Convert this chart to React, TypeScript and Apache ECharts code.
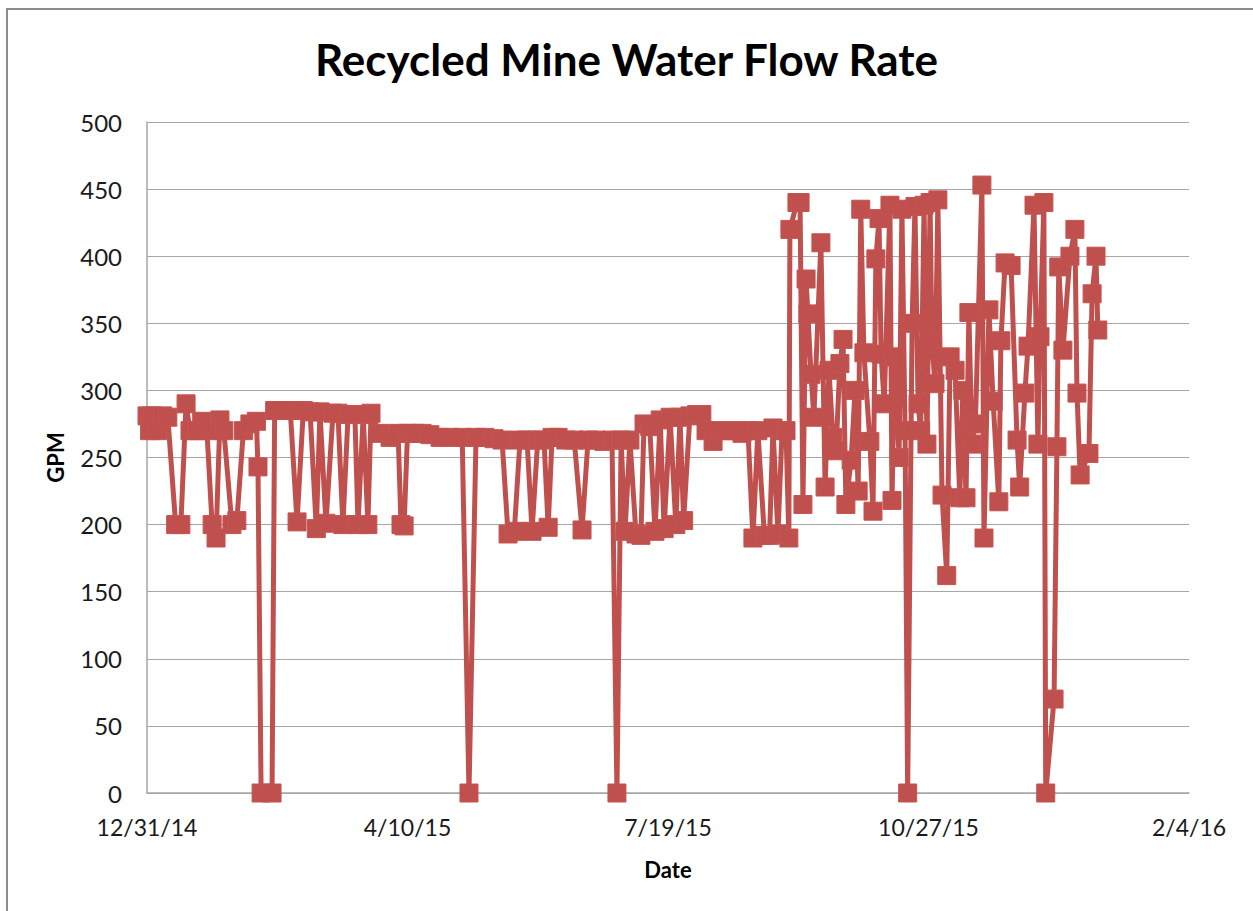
import React, { useEffect, useRef } from "react";
import * as echarts from "echarts";

// day offsets from 12/31/14
const days: number[] = [
  0, 1, 2, 4, 6, 8, 11, 13, 15, 16.5, 19, 21, 23, 25, 26.5, 28, 29.5, 32.6, 34.5, 37,
  39.5, 42, 42.6, 43.8, 48, 49, 52, 55, 57.6, 60, 62.6, 65, 66.4, 68.7, 71.4, 73.3, 75.2, 77.2, 79.8, 81,
  83, 84.8, 86, 89.4, 93.3, 96.4, 97.5, 98.7, 100, 103, 105.6, 108.6, 112.5, 116.3, 121, 123.6, 126.3, 129.7, 133.2, 136.3,
  138.6, 141, 143.2, 145.9, 147.8, 150, 152.4, 154, 155.5, 157.8, 160.8, 164, 167, 169.3, 172.4, 175.4, 178.5, 180.4, 182, 183.5,
  185.4, 187.7, 189.6, 190.8, 193, 195, 197, 198.5, 200.8, 203, 204.6, 206, 208.4, 211, 213, 214.6, 217.3, 220, 223, 226,
  228.4, 230.7, 232.6, 234.5, 237, 239, 240.3, 242.2, 243.8, 245.3, 246.4, 246.8, 249.5, 250.7, 251.8, 253, 253.7, 254.9, 256, 258.7,
  260.3, 261.8, 263.3, 264.5, 266, 267.2, 268.3, 270.3, 271.8, 273, 274, 275.2, 277.5, 278.7, 279.8, 281, 281.8, 283, 285.2, 286,
  287, 288.7, 289.8, 291, 292, 293.7, 294.8, 296, 297, 298.3, 299.4, 300.6, 301.3, 302.5, 303.6, 305.2, 307, 308.3, 310.2, 312,
  313.2, 314.4, 315.5, 316.7, 318, 320.5, 321.3, 323.2, 324.8, 327, 327.8, 329.4, 331.7, 334, 335, 337, 338.2, 340.5, 342, 342.8,
  344.3, 345, 348.2, 349.3, 350, 351.6, 354.3, 356.2, 357, 358.2, 361.6, 362.8, 364.3, 365
];

const gpm: number[] = [
  281, 270, 281, 270, 281, 280, 200, 200, 290, 270, 270, 277, 270, 200, 190, 278, 270, 200, 203, 270,
  275, 277, 243, 0, 0, 285, 285, 285, 202, 285, 284, 197, 284, 201, 283, 283, 200, 282, 282, 200,
  282, 200, 283, 268, 265, 268, 200, 199, 268, 268, 268, 267, 265, 265, 265, 0, 265, 265, 264, 263,
  193, 195, 263, 263, 195, 263, 263, 198, 265, 265, 263, 263, 196, 263, 263, 262, 263, 0, 263, 195,
  263, 193, 192, 275, 273, 195, 278, 197, 280, 200, 280, 203, 281, 282, 282, 270, 262, 270, 270, 270,
  268, 270, 190, 270, 192, 192, 272, 193, 270, 270, 190, 420, 440, 440, 215, 383, 357, 312, 280, 410,
  228, 315, 265, 255, 320, 338, 215, 248, 300, 225, 435, 328, 262, 210, 398, 428, 327, 290, 438, 218,
  325, 250, 435, 270, 0, 350, 437, 290, 270, 438, 260, 440, 335, 305, 442, 222, 162, 325, 315, 220,
  300, 220, 358, 260, 275, 453, 190, 360, 292, 217, 337, 395, 393, 263, 228, 298, 333, 438, 260, 340,
  440, 0, 70, 258, 392, 330, 400, 420, 298, 237, 253, 372, 400, 345
];

const BASE = Date.UTC(2014, 11, 31);
const DAY = 86400000;

function fmtDay(d: number): string {
  const dt = new Date(BASE + d * DAY);
  return `${dt.getUTCMonth() + 1}/${dt.getUTCDate()}/${String(dt.getUTCFullYear()).slice(2)}`;
}

export default function App() {
  const ref = useRef<HTMLDivElement>(null);
  useEffect(() => {
    if (!ref.current) return;
    const chart = echarts.init(ref.current, null, { renderer: "svg" });
    const font = "Lato, 'Open Sans', sans-serif";
    const color = "#C0504D";
    chart.setOption({
      animation: false,
      backgroundColor: "#ffffff",
      title: {
        text: "Recycled Mine Water Flow Rate",
        left: "center",
        top: 32,
        textStyle: { fontFamily: font, fontSize: 44, fontWeight: "bold", color: "#000" },
      },
      graphic: [
        {
          type: "rect",
          shape: { x: 7, y: 9, width: 1280, height: 940 },
          style: { fill: "none", stroke: "#8c8c8c", lineWidth: 2 },
          silent: true,
        },
      ],
      grid: { left: 147, right: 64, top: 122, bottom: 118, containLabel: false },
      xAxis: {
        type: "value",
        min: 0,
        max: 400,
        interval: 100,
        name: "Date",
        nameLocation: "middle",
        nameGap: 65,
        nameTextStyle: { fontFamily: font, fontSize: 22, fontWeight: "bold", color: "#000" },
        axisLine: { show: true, lineStyle: { color: "#a6a6a6", width: 1.5 } },
        axisTick: { show: false },
        splitLine: { show: false },
        axisLabel: {
          fontFamily: font,
          fontSize: 23,
          color: "#1a1a1a",
          margin: 22,
          formatter: (v: number) => fmtDay(v),
        },
      },
      yAxis: {
        type: "value",
        min: 0,
        max: 500,
        interval: 50,
        name: "GPM",
        nameLocation: "middle",
        nameGap: 81,
        nameTextStyle: { fontFamily: font, fontSize: 22, fontWeight: "bold", color: "#000" },
        axisLine: { show: true, lineStyle: { color: "#a6a6a6", width: 1.5 } },
        axisTick: { show: false },
        splitLine: { show: true, lineStyle: { color: "#a6a6a6", width: 1.2 } },
        axisLabel: { fontFamily: font, fontSize: 24, color: "#1a1a1a", margin: 25 },
      },
      series: [
        {
          type: "line",
          data: days.map((d, i) => [d, gpm[i]]),
          symbol: "rect",
          symbolSize: 18,
          showAllSymbol: true,
          lineStyle: { color, width: 5 },
          itemStyle: { color, borderColor: "#c45450", borderWidth: 1 },
        },
      ],
    });
    return () => chart.dispose();
  }, []);
  return (
    <div
      ref={ref}
      style={{ position: "fixed", left: 0, top: 0, width: 1253, height: 911, background: "#fff" }}
    />
  );
}
